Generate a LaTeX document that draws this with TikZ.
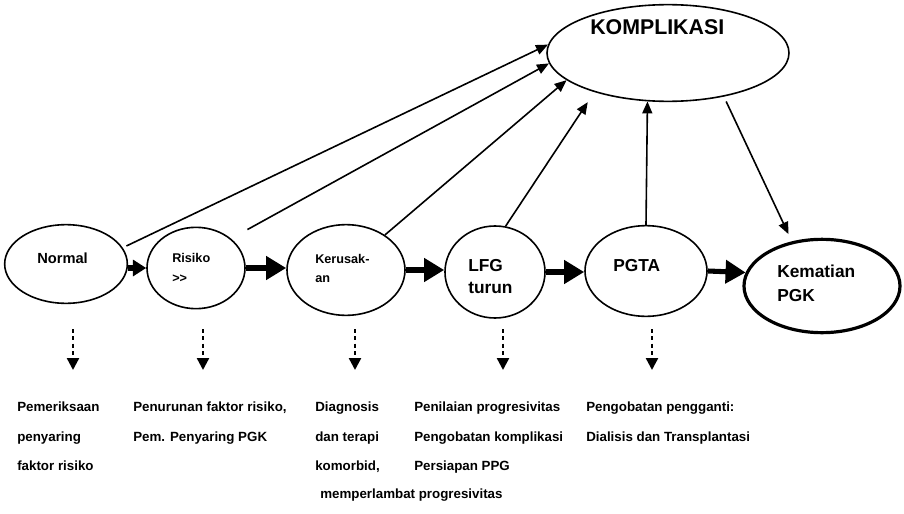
\documentclass[tikz,border=0pt]{standalone}
\usepackage{fontspec}
\setmainfont{Liberation Sans}
\usetikzlibrary{shapes.geometric,arrows.meta}
\tikzset{
  stage/.style={draw, ellipse, line width=1.2pt, inner sep=0pt},
  lbl/.style={anchor=base west, inner sep=0pt, font=\bfseries},
  bottomtxt/.style={anchor=base west, inner sep=0pt, font=\bfseries\fontsize{10}{12}\selectfont},
  thick arrow/.style={line width=3.8pt, -{Triangle[length=15pt,width=17pt]}},
  thin arrow/.style={line width=1.2pt, -{Triangle[length=9pt,width=7.5pt]}},
  dotarrow/.style={line width=1.8pt, dash pattern=on 3pt off 2.5pt, -{Triangle[length=9pt,width=9pt]}},
}
\begin{document}
\begin{tikzpicture}[x=0.75pt, y=-0.75pt]
\useasboundingbox (0,0) rectangle (904,514);
% ellipses
\node[stage, minimum width=92pt, minimum height=59pt] (normal) at (66,264) {};
\node[stage, minimum width=73.5pt, minimum height=61pt] (risiko) at (196,268) {};
\node[stage, minimum width=88.5pt, minimum height=68pt] (kerusakan) at (346,270) {};
\node[stage, minimum width=75pt, minimum height=69pt] (lfg) at (495,272) {};
\node[stage, minimum width=91.5pt, minimum height=68pt] (pgta) at (646,271) {};
\node[stage, line width=2.4pt, minimum width=117pt, minimum height=70pt] (kem) at (822,286) {};
\node[stage, minimum width=181.5pt, minimum height=72.5pt] (komp) at (668,53) {};
% labels
\node[lbl, font=\bfseries\fontsize{11}{13}\selectfont] (tnormal) at (37,263) {Normal};
\node[lbl, font=\bfseries\fontsize{9.5}{11}\selectfont] (trisiko) at (172,262) {Risiko};
\node[lbl, font=\bfseries\fontsize{9.5}{11}\selectfont] (trisiko2) at (172,282) {{>}{>}};
\node[lbl, font=\bfseries\fontsize{9.5}{11}\selectfont] (tker) at (315,263) {Kerusak-};
\node[lbl, font=\bfseries\fontsize{9.5}{11}\selectfont] (tker2) at (315,282) {an};
\node[lbl, font=\bfseries\fontsize{13}{15}\selectfont] (tlfg) at (468,271) {LFG};
\node[lbl, font=\bfseries\fontsize{13}{15}\selectfont] (tlfg2) at (468,293) {turun};
\node[lbl, font=\bfseries\fontsize{13}{15}\selectfont] (tpgta) at (613,271) {PGTA};
\node[lbl, font=\bfseries\fontsize{13}{15}\selectfont] (tkem) at (777,277) {Kematian};
\node[lbl, font=\bfseries\fontsize{13}{15}\selectfont] (tkem2) at (777,301) {PGK};
\node[lbl, font=\bfseries\fontsize{16}{18}\selectfont] (tkomp) at (590,35) {KOMPLIKASI};
% thick arrows along the chain
\draw[line width=3.8pt, -{Triangle[length=10pt,width=12pt]}] (normal.east |- risiko.west) -- (risiko.west);
\draw[thick arrow] (risiko.east) -- (kerusakan.west |- risiko.east);
\draw[thick arrow] (kerusakan.east) -- (lfg.west |- kerusakan.east);
\draw[thick arrow] (lfg.east) -- (pgta.west |- lfg.east);
\draw[thick arrow] (pgta.east) -- (kem.170);
% arrows to KOMPLIKASI
\draw[thin arrow, shorten <=3pt] (normal.16) -- (komp.176);
\draw[thin arrow, shorten <=14pt] (risiko.40) -- (komp.185);
\draw[thin arrow] (kerusakan.42) -- (komp.195);
\draw[thin arrow, shorten >=9pt] (lfg.77) -- (komp.208);
\draw[thin arrow] (pgta.north) -- (komp.247);
\draw[thin arrow, shorten <=4pt, shorten >=6pt] (komp.322) -- (kem.124);
% dotted arrows
\foreach \n/\x in {1/73, 2/203, 3/355, 4/503, 5/652} {
  \coordinate (d\n s) at (\x,329);
  \coordinate (d\n e) at (\x,370);
  \draw[dotarrow] (d\n s) -- (d\n e);
}
% bottom texts
\node[bottomtxt] (b1a) at (17,411) {Pemeriksaan};
\node[bottomtxt] (b1b) at (17,441) {penyaring};
\node[bottomtxt] (b1c) at (17,470) {faktor risiko};
\node[bottomtxt] (b2a) at (133,411) {Penurunan faktor risiko,};
\node[bottomtxt] (b2b) at (133,441) {Pem. Penyaring PGK};
\node[bottomtxt] (b3a) at (315,411) {Diagnosis};
\node[bottomtxt] (b3b) at (315,441) {dan terapi};
\node[bottomtxt] (b3c) at (315,470) {komorbid,};
\node[bottomtxt] (b3d) at (320,498) {memperlambat progresivitas};
\node[bottomtxt] (b4a) at (414,411) {Penilaian progresivitas};
\node[bottomtxt] (b4b) at (414,441) {Pengobatan komplikasi};
\node[bottomtxt] (b4c) at (414,470) {Persiapan PPG};
\node[bottomtxt] (b5a) at (586,411) {Pengobatan pengganti:};
\node[bottomtxt] (b5b) at (586,441) {Dialisis dan Transplantasi};
\end{tikzpicture}
\end{document}
